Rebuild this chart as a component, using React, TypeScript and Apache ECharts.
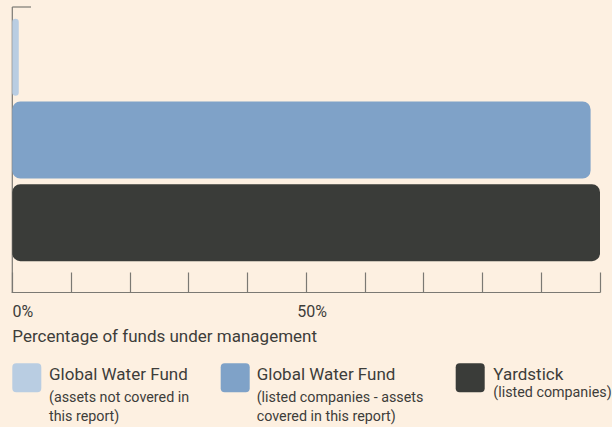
import React, { useEffect, useRef } from "react";
import * as echarts from "echarts";

const categories = [
  "Global Water Fund (assets not covered in this report)",
  "Global Water Fund (listed companies - assets covered in this report)",
  "Yardstick (listed companies)",
];
const values = [1.1, 98.4, 100];
const barColors = ["#b9cde2", "#7fa2c8", "#3a3c39"];
const tickLabels: Record<number, string> = { 0: "0%", 50: "50%" };
const legendTitles = ["Global Water Fund", "Global Water Fund", "Yardstick"];
const legendSubLines = [
  ["(assets not covered in", "this report)"],
  ["(listed companies - assets", "covered in this report)"],
  ["(listed companies)"],
];

const FONT = "Roboto, 'Liberation Sans', sans-serif";
const TEXT = "#3d3d3a";
const AXIS = "#7b7973";
const BG = "#fdf0e1";

export default function App() {
  const ref = useRef<HTMLDivElement>(null);
  useEffect(() => {
    if (!ref.current) return;
    const chart = echarts.init(ref.current, undefined, { renderer: "svg" });

    const series = categories.map((c, i) => ({
      type: "bar" as const,
      name: legendTitles[i] + " " + legendSubLines[i].join(" "),
      stack: "all",
      barWidth: 77,
      itemStyle: { color: barColors[i], borderRadius: 8 },
      data: categories.map((_, j) => (j === i ? values[i] : "-")),
      z: 3,
    }));

    const legendX = [12.3, 220.7, 455.7];
    const legendTextX = [49, 256.7, 493.3];
    const subY = [
      [397, 415.5],
      [397, 415.5],
      [391.5],
    ];
    const legendGraphics: any[] = [];
    legendTitles.forEach((t, i) => {
      legendGraphics.push({
        type: "rect",
        shape: { x: legendX[i], y: 363.3, width: 29, height: 29, r: 4 },
        style: { fill: barColors[i] },
      });
      legendGraphics.push({
        type: "text",
        x: legendTextX[i],
        y: 374,
        style: {
          text: t,
          font: `17px ${FONT}`,
          fill: TEXT,
          verticalAlign: "middle",
          align: "left",
        },
      });
      legendSubLines[i].forEach((s, k) => {
        legendGraphics.push({
          type: "text",
          x: legendTextX[i],
          y: subY[i][k],
          style: {
            text: s,
            font: `14.3px ${FONT}`,
            fill: TEXT,
            verticalAlign: "middle",
            align: "left",
          },
        });
      });
    });

    chart.setOption({
      animation: false,
      backgroundColor: BG,
      textStyle: { fontFamily: FONT },
      grid: { left: 12.3, right: 12, top: 16, height: 248 },
      xAxis: {
        type: "value",
        min: 0,
        max: 100,
        interval: 10,
        offset: 28.5,
        axisLine: { show: true, lineStyle: { color: AXIS, width: 1.2 } },
        axisTick: { show: true, inside: true, length: 20, lineStyle: { color: AXIS, width: 1.2 } },
        splitLine: { show: false },
        axisLabel: {
          margin: 11,
          align: "center",
          formatter: (v: number) =>
            v === 0 ? `{a|${tickLabels[0]}}` : v === 50 ? `{b|${tickLabels[50]}}` : "",
          rich: {
            a: { fontSize: 16, color: TEXT, fontFamily: FONT, padding: [0, 0, 0, 21] },
            b: { fontSize: 16, color: TEXT, fontFamily: FONT, padding: [0, 0, 0, 12] },
          },
        },
        name: "Percentage of funds under management",
        nameLocation: "start",
        nameGap: 0,
        nameTextStyle: {
          fontSize: 17,
          color: TEXT,
          fontFamily: FONT,
          align: "left",
          verticalAlign: "top",
          padding: [35, 0, 0, 0],
        },
      },
      yAxis: {
        type: "category",
        inverse: true,
        data: categories,
        axisLine: { show: false },
        axisTick: { show: false },
        axisLabel: { show: false },
      },
      series,
      graphic: [
        {
          type: "line",
          z: 1,
          shape: { x1: 12.3, y1: 7, x2: 12.3, y2: 293 },
          style: { stroke: AXIS, lineWidth: 1.2 },
        },
        {
          type: "line",
          z: 1,
          shape: { x1: 12.3, y1: 7, x2: 31, y2: 7 },
          style: { stroke: AXIS, lineWidth: 1.2 },
        },
        ...legendGraphics,
      ],
    });
    return () => chart.dispose();
  }, []);

  return (
    <div
      ref={ref}
      style={{ position: "fixed", left: 0, top: 0, width: 612, height: 427, background: BG }}
    />
  );
}
